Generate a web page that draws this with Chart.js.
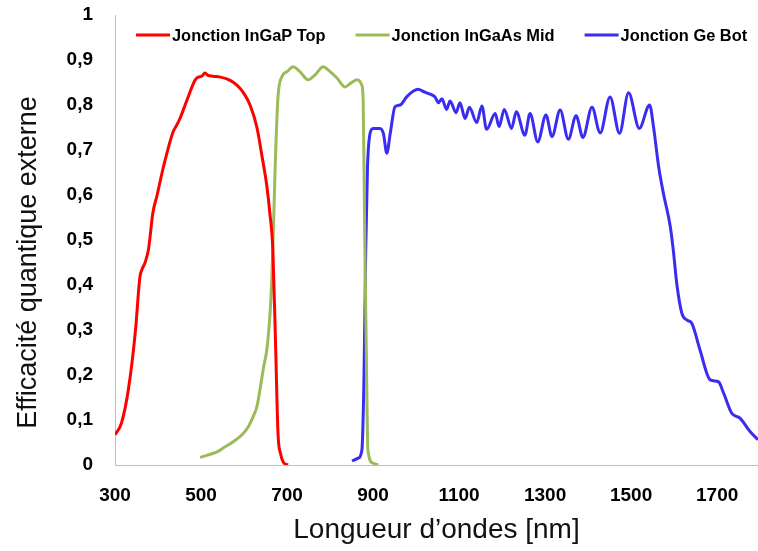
<!DOCTYPE html>
<html>
<head>
<meta charset="utf-8">
<script src="https://cdn.jsdelivr.net/npm/chart.js@4.4.1/dist/chart.umd.min.js"></script>
<style>
  html, body { margin: 0; padding: 0; background: #fff; }
  canvas { display: block; }
</style>
</head>
<body>
<canvas id="qeChart" width="758" height="551"></canvas>
<script>
// wavelengths (nm) and external quantum efficiency
const ingapNm = [300, 315, 331, 347, 358, 363, 370, 378, 388, 398, 412, 435, 444, 451, 467, 486, 493, 502, 509, 516, 528, 545, 560, 574, 590, 598, 614, 630, 642, 653, 660, 667, 673, 679, 685, 691, 702];
const ingapQe = [0.067, 0.093, 0.167, 0.293, 0.418, 0.435, 0.45, 0.48, 0.56, 0.60, 0.66, 0.74, 0.756, 0.77, 0.81, 0.855, 0.862, 0.864, 0.871, 0.866, 0.864, 0.862, 0.858, 0.851, 0.838, 0.828, 0.80, 0.75, 0.685, 0.62, 0.56, 0.478, 0.28, 0.07, 0.025, 0.007, 0];

const ingaasNm = [498, 515, 537, 555, 574, 598, 610, 621, 630, 637, 646, 653, 660, 664, 667, 673, 679, 688, 700, 714, 730, 749, 765, 784, 800, 816, 835, 847, 863, 874, 877, 881, 885, 888, 900, 912];
const ingaasQe = [0.017, 0.022, 0.029, 0.04, 0.051, 0.07, 0.085, 0.107, 0.13, 0.167, 0.22, 0.256, 0.33, 0.40, 0.482, 0.68, 0.818, 0.863, 0.874, 0.885, 0.874, 0.856, 0.867, 0.885, 0.874, 0.86, 0.84, 0.848, 0.856, 0.844, 0.81, 0.48, 0.2, 0.033, 0.004, 0];

const geNm = [851, 865, 874, 879, 883, 887, 893, 900, 916, 924, 932, 940, 951, 963, 978, 994, 1005, 1017, 1033, 1044, 1052, 1060, 1071, 1079, 1093, 1102, 1114, 1124, 1141, 1153, 1164, 1184, 1193, 1205, 1222, 1233, 1253, 1265, 1283, 1302, 1316, 1335, 1354, 1372, 1388, 1409, 1428, 1451, 1473, 1494, 1519, 1543, 1552, 1564, 1575, 1591, 1598, 1606, 1618, 1630, 1641, 1660, 1684, 1703, 1715, 1734, 1753, 1777, 1795];
const geQe = [0.009, 0.015, 0.033, 0.2, 0.48, 0.66, 0.737, 0.748, 0.748, 0.737, 0.693, 0.737, 0.796, 0.80, 0.818, 0.831, 0.835, 0.83, 0.824, 0.818, 0.805, 0.814, 0.79, 0.809, 0.783, 0.805, 0.77, 0.795, 0.761, 0.798, 0.746, 0.781, 0.752, 0.79, 0.748, 0.785, 0.733, 0.781, 0.718, 0.778, 0.73, 0.789, 0.724, 0.776, 0.728, 0.795, 0.738, 0.818, 0.737, 0.827, 0.748, 0.80, 0.752, 0.663, 0.604, 0.53, 0.478, 0.404, 0.337, 0.322, 0.315, 0.256, 0.189, 0.185, 0.16, 0.115, 0.104, 0.074, 0.056];

const xTicks = [300, 500, 700, 900, 1100, 1300, 1500, 1700];
const yTicks = [0, 0.1, 0.2, 0.3, 0.4, 0.5, 0.6, 0.7, 0.8, 0.9, 1];

const toPoints = (xs, ys) => xs.map((x, i) => ({ x: x, y: ys[i] }));

const series = (label, xs, ys, color) => ({
    label: label,
    data: toPoints(xs, ys),
    borderColor: color,
    backgroundColor: color,
    borderWidth: 3,
    pointRadius: 0,
    cubicInterpolationMode: 'monotone',
    fill: false
});

// legend drawn inside the plot, line sample + bold label
const lineLegend = {
    id: 'lineLegend',
    afterDraw(chart) {
        const c = chart.ctx;
        let x = 136;
        const y = 35;
        c.save();
        c.font = 'bold 16.4px "Liberation Sans"';
        c.textBaseline = 'middle';
        c.fillStyle = '#000';
        chart.data.datasets.forEach(ds => {
            c.strokeStyle = ds.borderColor;
            c.lineWidth = 3;
            c.beginPath();
            c.moveTo(x, y);
            c.lineTo(x + 34, y);
            c.stroke();
            x += 36;
            c.fillText(ds.label, x, y + 1);
            x += c.measureText(ds.label).width + 30;
        });
        c.restore();
    }
};

const ctx = document.getElementById('qeChart').getContext('2d');

new Chart(ctx, {
    type: 'line',
    data: {
        datasets: [
            series('Jonction InGaP Top', ingapNm, ingapQe, '#ff0000'),
            series('Jonction InGaAs Mid', ingaasNm, ingaasQe, '#9bbb59'),
            series('Jonction Ge Bot', geNm, geQe, '#3a2cf0')
        ]
    },
    options: {
        responsive: false,
        animation: false,
        layout: { padding: { top: 15, right: 0, bottom: 0, left: 0 } },
        plugins: {
            legend: { display: false },
            tooltip: { enabled: false }
        },
        scales: {
            x: {
                type: 'linear',
                min: 300,
                max: 1795,
                afterBuildTicks: scale => { scale.ticks = xTicks.map(v => ({ value: v })); },
                afterFit: scale => {
                    scale.height = 86;
                    scale.paddingLeft = 0;
                    scale.paddingRight = 0;
                },
                grid: { display: false, drawTicks: false },
                border: { display: true, color: '#bfbfbf', width: 1 },
                ticks: {
                    padding: 19,
                    color: '#000',
                    font: { family: '"Liberation Sans"', size: 19, weight: 'bold' },
                    maxRotation: 0,
                    callback: v => String(v)
                },
                title: {
                    display: true,
                    text: 'Longueur d\u2019ondes [nm]',
                    color: '#111',
                    font: { family: '"Liberation Sans"', size: 28 },
                    padding: { top: 0, bottom: 4 }
                }
            },
            y: {
                min: 0,
                max: 1,
                afterBuildTicks: scale => { scale.ticks = yTicks.map(v => ({ value: v })); },
                afterFit: scale => {
                    scale.width = 115;
                    scale.paddingTop = 0;
                    scale.paddingBottom = 0;
                },
                grid: { display: false, drawTicks: false },
                border: { display: true, color: '#bfbfbf', width: 1 },
                ticks: {
                    padding: 22,
                    color: '#000',
                    font: { family: '"Liberation Sans"', size: 19, weight: 'bold' },
                    callback: v => (v === 0 || v === 1) ? String(v) : v.toFixed(1).replace('.', ',')
                },
                title: {
                    display: true,
                    text: 'Efficacit\u00e9 quantique externe      ',
                    color: '#111',
                    font: { family: '"Liberation Sans"', size: 27 },
                    padding: { top: 12, bottom: 0 }
                }
            }
        }
    },
    plugins: [lineLegend]
});
</script>
</body>
</html>
